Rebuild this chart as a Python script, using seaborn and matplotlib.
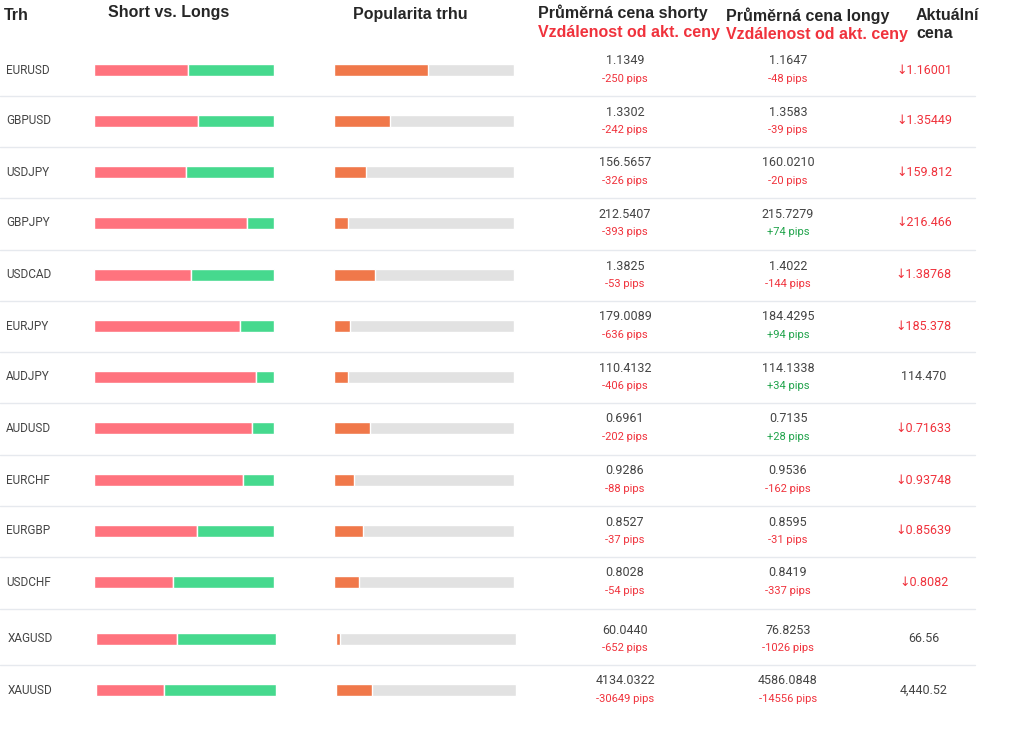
import matplotlib
matplotlib.use("Agg")
import matplotlib.pyplot as plt
import seaborn as sns

sns.set_style("white")
plt.rcParams['font.family'] = ['Roboto', 'DejaVu Sans']

markets = ["EURUSD","GBPUSD","USDJPY","GBPJPY","USDCAD","EURJPY","AUDJPY","AUDUSD","EURCHF","EURGBP","USDCHF","XAGUSD","XAUUSD"]
short_pct = [52,58,51,85,54,81,90,88,83,57,44,45,38]
popularity = [52,31,18,8,23,9,8,20,11,16,14,2,20]
short_price = ["1.1349","1.3302","156.5657","212.5407","1.3825","179.0089","110.4132","0.6961","0.9286","0.8527","0.8028","60.0440","4134.0322"]
short_pips = [-250,-242,-326,-393,-53,-636,-406,-202,-88,-37,-54,-652,-30649]
long_price = ["1.1647","1.3583","160.0210","215.7279","1.4022","184.4295","114.1338","0.7135","0.9536","0.8595","0.8419","76.8253","4586.0848"]
long_pips = [-48,-39,-20,74,-144,94,34,28,-162,-31,-337,-1026,-14556]
current = ["1.16001","1.35449","159.812","216.466","1.38768","185.378","114.470","0.71633","0.93748","0.85639","0.8082","66.56","4,440.52"]
down = [True,True,True,True,True,True,False,True,True,True,True,False,False]

row_y = [70,121,172,223,275,326,377,428,480,531,582,639,690]
seps = [96,147,198,250,301,352,403,455,506,557,609,665]

RED_BAR = "#ff737e"; GREEN_BAR = "#46d98e"; ORANGE = "#f0784a"; GREY = "#e2e2e2"
RED = "#f0323c"; GREEN = "#1fa34a"; DARK = "#444444"

fig = plt.figure(figsize=(10.29, 7.34), dpi=100)
ax = fig.add_axes([0, 0, 1, 1])
ax.set_xlim(0, 1029); ax.set_ylim(734, 0); ax.axis("off")

hdr = dict(fontsize=11.5, fontweight="bold", family=["Liberation Sans", "DejaVu Sans"], va="center")
ax.text(4, 15, "Trh", ha="left", **hdr)
ax.text(169, 13, "Short vs. Longs", ha="center", **hdr)
ax.text(410, 15, "Popularita trhu", ha="center", **hdr)
ax.text(538, 13, "Průměrná cena shorty", ha="left", **hdr)
ax.text(538, 33, "Vzdálenost od akt. ceny", ha="left", color=RED, **hdr)
ax.text(726, 16, "Průměrná cena longy", ha="left", **hdr)
ax.text(726, 35, "Vzdálenost od akt. ceny", ha="left", color=RED, **hdr)
ax.text(916, 15, "Aktuální", ha="left", **hdr)
ax.text(916, 34, "cena", ha="left", **hdr)

for s in seps:
    ax.plot([0, 975], [s, s], color="#e6e9ee", lw=1)

for i, m in enumerate(markets):
    y = row_y[i]
    off = 2 if i >= 11 else 0
    ax.text(6 + off, y, m, ha="left", va="center", fontsize=8.5, color=DARK)
    w = 180 * short_pct[i] / 100
    ax.barh(y, w, left=94 + off, height=12, color=RED_BAR)
    ax.barh(y, 180 - w, left=94 + off + w, height=12, color=GREEN_BAR)
    p = 180 * popularity[i] / 100
    ax.barh(y, 180, left=334 + off, height=12, color=GREY)
    ax.barh(y, p, left=334 + off, height=12, color=ORANGE)
    ax.text(625, y - 9, short_price[i], ha="center", va="center", fontsize=9, color=DARK)
    sp = short_pips[i]
    ax.text(625, y + 9, f"{sp:+d} pips", ha="center", va="center", fontsize=8, color=GREEN if sp > 0 else RED)
    ax.text(788, y - 9, long_price[i], ha="center", va="center", fontsize=9, color=DARK)
    lp = long_pips[i]
    ax.text(788, y + 9, f"{lp:+d} pips", ha="center", va="center", fontsize=8, color=GREEN if lp > 0 else RED)
    if down[i]:
        ax.text(924, y, "↓" + current[i], ha="center", va="center", fontsize=9, color=RED)
    else:
        ax.text(924, y, current[i], ha="center", va="center", fontsize=9, color=DARK)

fig.savefig("out.png", dpi=100, facecolor="white")
